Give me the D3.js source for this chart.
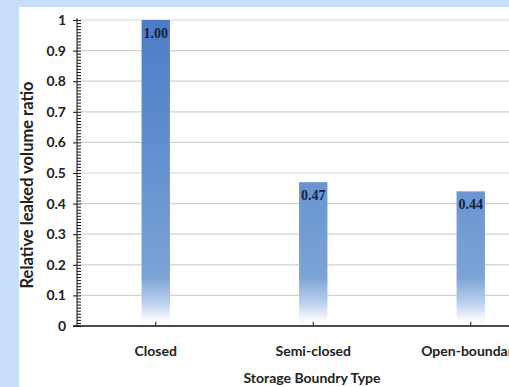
<!DOCTYPE html>
<html>
<head>
<meta charset="utf-8">
<script src="https://cdn.jsdelivr.net/npm/d3@7"></script>
<style>
  html, body { margin: 0; padding: 0; background: #c8dff9; }
  svg { display: block; }
  .lab { font-family: Lato, "Open Sans", sans-serif; font-weight: bold; fill: #222; }
</style>
</head>
<body>
<svg id="chart" width="509" height="387"></svg>
<script>
// Relative leaked volume by storage boundary type
const categories = ["Closed", "Semi-closed", "Open-boundary"];
const ratios = [1.00, 0.47, 0.44];
const yTicks = [0, 0.1, 0.2, 0.3, 0.4, 0.5, 0.6, 0.7, 0.8, 0.9, 1];
const yTickLabels = ["0", "0.1", "0.2", "0.3", "0.4", "0.5", "0.6", "0.7", "0.8", "0.9", "1"];
const xTitle = "Storage Boundry Type";
const yTitle = "Relative leaked volume ratio";

const svg = d3.select("#chart");
const W = 509, H = 387;
const plot = { left: 77, top: 20, bottom: 326, right: 549.5 };

// page background and white chart panel
svg.append("rect").attr("width", W).attr("height", H).attr("fill", "#c8dff9");
svg.append("rect").attr("x", 19).attr("y", 7).attr("width", W - 19).attr("height", H - 7).attr("fill", "#ffffff");

const x = d3.scaleBand().domain(categories).range([plot.left, plot.right]).paddingInner(0.82).paddingOuter(0.41);
const y = d3.scaleLinear().domain([0, 1]).range([plot.bottom, plot.top]);

const defs = svg.append("defs");
const grad = defs.append("linearGradient").attr("id", "barFill")
  .attr("gradientUnits", "userSpaceOnUse")
  .attr("x1", 0).attr("x2", 0).attr("y1", y(1)).attr("y2", y(0));
[[0, "#4d7cc6"], [0.45, "#6390cf"], [0.84, "#7ca3d6"], [0.92, "#b7cdea"], [0.975, "#f4f7fd"], [1, "#ffffff"]]
  .forEach(([o, c]) => grad.append("stop").attr("offset", o).attr("stop-color", c));
defs.append("filter").attr("id", "soft").append("feGaussianBlur").attr("stdDeviation", 1.2);

// gridlines with a faint shadow
const grid = svg.append("g");
grid.selectAll("line.shadow").data(yTicks.filter(d => d > 0)).join("line")
  .attr("class", "shadow")
  .attr("x1", plot.left + 3).attr("x2", W)
  .attr("y1", d => y(d) + 2).attr("y2", d => y(d) + 2)
  .attr("stroke", "#ececec").attr("stroke-width", 3).attr("filter", "url(#soft)");
grid.selectAll("line.main").data(yTicks.filter(d => d > 0)).join("line")
  .attr("class", "main")
  .attr("x1", plot.left + 3).attr("x2", W)
  .attr("y1", d => y(d)).attr("y2", d => y(d))
  .attr("stroke", "#d2d2d2").attr("stroke-width", 1.2);

// bars
svg.append("g").selectAll("rect").data(ratios).join("rect")
  .attr("x", (d, i) => x(categories[i]))
  .attr("width", x.bandwidth())
  .attr("y", d => y(d))
  .attr("height", d => y(0) - y(d))
  .attr("fill", "url(#barFill)");

// value labels inside bar tops
svg.append("g").selectAll("text").data(ratios).join("text")
  .attr("x", (d, i) => x(categories[i]) + x.bandwidth() / 2)
  .attr("y", d => y(d) + 18)
  .attr("text-anchor", "middle")
  .style("font-family", "'Liberation Serif', 'Times New Roman', serif")
  .style("font-size", "14px")
  .style("font-weight", "bold")
  .style("fill", "#15233f")
  .text(d => d.toFixed(2));

// y axis: major ticks crossing the line, minor ticks on the inside
const yAxisLeft = d3.axisLeft(y).tickValues(yTicks)
  .tickFormat((d, i) => yTickLabels[i]).tickSize(4).tickPadding(7).tickSizeOuter(0);
const gy = svg.append("g").attr("transform", `translate(${plot.left},0)`).call(yAxisLeft);
gy.selectAll("text").attr("class", "lab").style("font-size", "14px");
gy.select(".domain").attr("stroke", "#111").attr("d", `M0,${plot.bottom}V${plot.top - 2}`);
gy.selectAll("line").attr("stroke", "#111");

const minor = d3.range(0, 101).map(i => i / 100);
const gyMinor = svg.append("g").attr("transform", `translate(${plot.left},0)`)
  .call(d3.axisRight(y).tickValues(minor).tickSize(4).tickFormat("").tickSizeOuter(0));
gyMinor.select(".domain").remove();
gyMinor.selectAll("line").attr("stroke", "#111");

// x axis with small upward ticks
const gx = svg.append("g").attr("transform", `translate(0,${plot.bottom})`)
  .call(d3.axisBottom(x).tickSize(-4).tickPadding(20).tickSizeOuter(0));
gx.select(".domain").attr("stroke", "#111").attr("stroke-width", 1.3).attr("d", `M${plot.left - 4},0H${W}`);
gx.selectAll("line").attr("stroke", "#111");
gx.selectAll("text").attr("class", "lab").style("font-size", "14px");

// axis titles
svg.append("text").attr("class", "lab")
  .attr("x", 312).attr("y", 383).attr("text-anchor", "middle")
  .style("font-size", "14px").text(xTitle);
svg.append("text").attr("class", "lab")
  .attr("transform", "translate(33,185) rotate(-90)")
  .attr("text-anchor", "middle")
  .style("font-size", "16.5px").text(yTitle);
</script>
</body>
</html>
